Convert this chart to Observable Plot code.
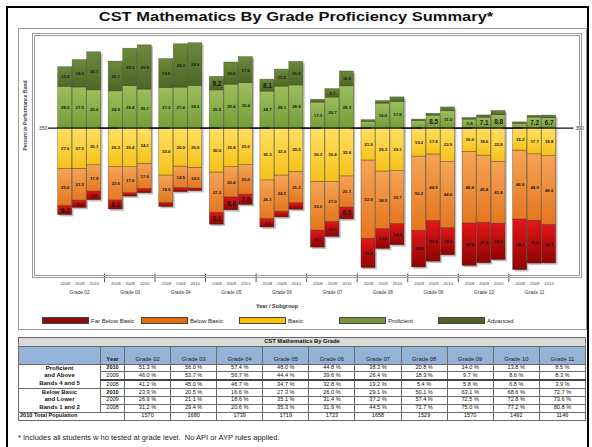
<!DOCTYPE html>
<html><head><meta charset="utf-8">
<script src="https://cdn.jsdelivr.net/npm/d3@7"></script>
<script src="https://cdn.jsdelivr.net/npm/@observablehq/plot@0.6"></script>
<style>
html,body{margin:0;padding:0;background:#fff;}
body{width:592px;height:447px;position:relative;overflow:hidden;font-family:"Liberation Sans",Arial,sans-serif;color:#111;}
.abs{position:absolute;box-sizing:border-box;}
#outer{left:6px;top:6px;width:583px;height:480px;border:2.5px solid #000;}
#title{left:0;top:8px;width:592px;text-align:center;font-weight:bold;font-size:13.5px;line-height:18px;transform:scaleX(1.22);transform-origin:296px 0;}
#panel{left:18px;top:28px;width:569px;height:302px;border:1px solid #9c9c9c;}
#frame{left:32px;top:33px;width:550px;height:245px;border:3px double #9a9a9a;pointer-events:none;}
#chart{left:18px;top:30px;}
#xtitle{left:177px;top:303px;width:200px;text-align:center;font-weight:bold;font-size:5.5px;color:#333;}
.sw{position:absolute;top:317px;width:47px;height:7px;border:0.8px solid #444;box-sizing:border-box;}
.lg{position:absolute;top:316.5px;font-size:6px;line-height:8px;color:#222;}
#tbl{left:18px;top:337px;width:567px;border-collapse:collapse;table-layout:fixed;}
#tbl td{border:1px solid #6a6a6a;padding:0;line-height:1;text-align:center;font-size:5.6px;overflow:hidden;white-space:nowrap;}
#tbl tr.t td{background:#d9d9d9;font-weight:bold;height:8px;font-size:5.8px;}
#tbl tr.h td{background:#95b3d7;height:15.5px;vertical-align:bottom;padding-bottom:1px;font-size:5.8px;color:#1a1a1a;}
#tbl tr.d td{height:6.8px;background:#fff;}
#tbl tr.p td{height:7px;}
#tbl td.grp{font-weight:bold;font-size:6px;line-height:7.6px;white-space:normal;}
#tbl tr.thick td{border-top:2px solid #444;}
#foot{left:18px;top:433px;font-size:7.5px;color:#222;white-space:pre;}
</style></head>
<body>
<div id="outer" class="abs"></div>
<div id="title" class="abs">CST Mathematics By Grade Proficiency Summary*</div>
<div id="panel" class="abs"></div>
<div id="chart" class="abs"></div>
<div id="frame" class="abs"></div>
<div id="xtitle" class="abs">Year / Subgroup</div>
<div id="legend"></div>
<table id="tbl" class="abs"></table>
<div id="foot" class="abs">* Includes all students w ho tested at grade level.  No API or AYP rules applied.</div>
<script>
// ---------- data ----------
const grades = ["Grade 02","Grade 03","Grade 04","Grade 05","Grade 06","Grade 07","Grade 08","Grade 09","Grade 10","Grade 11"];
const years = ["2008","2009","2010"];
const bands = ["Far Below Basic","Below Basic","Basic","Proficient","Advanced"];
// per grade: [2008, 2009, 2010]
const advanced = [[13.2,18.5,25.7],[20.1,25.3,29.9],[19.5,29.3,28.8],[9.2,15.0,17.6],[8.1,11.5,15.9],[1.9,5.7,10.0],[1.1,1.7,3.0],[1.0,1.2,2.5],[1.0,1.5,2.8],[1.0,1.1,1.8]];
const proficient = [[28.0,27.5,25.6],[24.9,28.4,26.1],[27.2,27.4,28.6],[25.5,29.4,30.4],[24.7,28.1,28.9],[17.3,20.7,28.3],[4.3,16.6,17.8],[4.8,8.5,11.5],[5.8,7.1,8.8],[2.9,7.2,6.7]];
const basic = [[27.6,27.5,25.1],[26.3,26.4,24.1],[32.0,26.0,26.8],[30.0,26.4,25.0],[35.3,32.0,29.5],[36.3,36.4,32.6],[21.9,29.3,29.1],[19.2,17.8,22.9],[16.0,18.6,22.8],[15.2,17.7,18.8]];
const belowBasic = [[25.0,21.5,17.8],[22.6,17.6,17.0],[18.5,14.5,14.0],[27.2,20.4,20.0],[26.1,24.5,21.2],[33.0,27.0,21.1],[52.9,38.9,35.7],[50.2,44.9,44.6],[48.4,45.4,41.8],[46.6,44.9,46.6]];
const farBelowBasic = [[6.2,5.0,5.8],[6.1,2.3,2.9],[2.8,2.8,1.8],[8.1,8.8,7.0],[5.8,3.9,4.5],[11.5,10.2,8.0],[19.8,13.5,14.4],[24.8,27.6,18.5],[28.8,27.4,24.6],[34.2,29.0,26.1]];

// table values
const tableYears = ["2010","2009","2008"];
const profAbove = [
  ["51.3","56.0","57.4","48.0","44.8","38.3","20.8","14.0","13.8","8.5"],
  ["46.0","53.7","56.7","44.4","39.6","26.4","18.3","9.7","8.6","8.3"],
  ["41.2","45.0","46.7","34.7","32.8","19.2","5.4","5.8","6.8","3.9"]];
const belowLower = [
  ["23.9","20.5","16.6","27.3","26.0","29.1","50.1","63.1","68.6","72.7"],
  ["26.9","21.1","18.6","35.1","31.4","37.2","57.4","72.5","72.8","73.6"],
  ["31.2","29.4","20.6","35.3","31.9","44.5","72.7","75.0","77.2","80.8"]];
const population = ["1570","1680","1739","1719","1723","1658","1529","1570","1492","1146"];

// ---------- styling ----------
const gradTop = ["#e3171a","#f5a458","#ffe063","#9cbe5c","#6b8a3b"];
const gradBot = ["#8f0303","#e5771f","#f6c21a","#749e38","#4b6824"];
const legendColors = ["#8b0a0a","#e46c0a","#ffc000","#77933c","#4f6228"];
const stackOrder = ["Proficient","Advanced","Basic","Below Basic","Far Below Basic"];

// ---------- build rows ----------
const bandArrays = {"Far Below Basic": farBelowBasic, "Below Basic": belowBasic, "Basic": basic, "Proficient": proficient, "Advanced": advanced};
const rows = [];
const totals = [];
grades.forEach((g, gi) => {
  years.forEach((yr, yi) => {
    let above = 0, below = 0;
    for (const b of bands) {
      const v = bandArrays[b][gi][yi];
      const neg = (b === "Far Below Basic" || b === "Below Basic" || b === "Basic");
      rows.push({grade: g, year: yr, band: b, v, signed: neg ? -v : v});
      if (neg) below += v; else above += v;
    }
    totals.push({grade: g, year: yr, above, below});
  });
});

// ---------- layout ----------
const W = 568, H = 270, ML = 35.9, MR = 26.6, MT = 3, MB = 23;
const xPadIn = 0.03, xPadOut = 0.26;
const facetW = (W - ML - MR) / grades.length;
const xStep = facetW / (years.length - xPadIn + 2 * xPadOut);
const xBw = xStep * (1 - xPadIn);
const font = "'Liberation Sans', Arial, sans-serif";

const chart = Plot.plot({
  width: W, height: H,
  marginLeft: ML, marginRight: MR, marginTop: MT, marginBottom: MB,
  style: {background: "transparent", fontFamily: font, fontSize: "4.6px", overflow: "visible"},
  fx: {domain: grades, paddingInner: 0, paddingOuter: 0, round: false, axis: null, label: null},
  x: {domain: years, paddingInner: xPadIn, paddingOuter: xPadOut, round: false, axis: null, label: null},
  y: {domain: [-101, 64], axis: null, label: null},
  color: {domain: bands, range: bands.map((b, i) => `url(#bandgrad${i})`)},
  marks: [
    // drop shadow of each bar
    Plot.barY(totals, {fx: "grade", x: "year", y1: d => -d.below, y2: d => d.above, fill: "#7d7d7d", fillOpacity: 0.5, dx: 1.8, dy: 1.8, inset: 0}),
    // stacked segments
    Plot.barY(rows, Plot.stackY({fx: "grade", x: "year", y: "signed", z: "band", fill: "band", order: stackOrder, stroke: "#2e2e1e", strokeOpacity: 0.55, strokeWidth: 0.6, inset: 0})),
    // value labels
    Plot.text(rows, Plot.stackY({fx: "grade", x: "year", y: "signed", z: "band", order: stackOrder,
      text: d => d.v >= 5 ? d.v.toFixed(1) : "",
      fontSize: d => (d.v >= 6 && d.v < 10) ? 6.3 : 4.3,
      fontWeight: "bold", fill: "#151515"})),
    // 350 line
    Plot.ruleY([0], {stroke: "#111", strokeWidth: 1.1, insetLeft: -6, insetRight: -14}),
    Plot.text(["350"], {fx: () => grades[0], y: () => 0, text: d => d, frameAnchor: "left", textAnchor: "end", dx: -7, fontSize: 5, fill: "#333"}),
    Plot.text(["350"], {fx: () => grades[grades.length - 1], y: () => 0, text: d => d, frameAnchor: "right", textAnchor: "start", dx: 15.5, fontSize: 5, fill: "#333"}),
    // separator ticks between grade groups
    Plot.barY(grades.slice(1), {fx: d => d, x: () => years[0], y1: () => -98.5, y2: () => -104.5, fill: "#555",
      insetLeft: -(xPadOut * xStep) - 0.5, insetRight: xBw + xPadOut * xStep - 0.5}),
    // year labels
    Plot.text(totals, {fx: "grade", x: "year", text: "year", frameAnchor: "bottom", dy: 7, fontSize: 4.3, fill: "#444"}),
    // grade labels
    Plot.text(grades, {fx: d => d, text: d => d, frameAnchor: "bottom", dy: 16, fontSize: 4.8, fill: "#333"}),
    // y axis title
    Plot.text(["Percent in Performance Band"], {fx: () => grades[0], text: d => d, frameAnchor: "left", rotate: -90, dx: -29, dy: -5, fontSize: 5, fontWeight: "bold", fill: "#444"})
  ]
});

// gradients
const NS = "http://www.w3.org/2000/svg";
const defs = document.createElementNS(NS, "defs");
bands.forEach((b, i) => {
  const lg = document.createElementNS(NS, "linearGradient");
  lg.setAttribute("id", `bandgrad${i}`);
  lg.setAttribute("x1", "0"); lg.setAttribute("y1", "0"); lg.setAttribute("x2", "0"); lg.setAttribute("y2", "1");
  [[0, gradTop[i]], [1, gradBot[i]]].forEach(([o, c]) => {
    const s = document.createElementNS(NS, "stop");
    s.setAttribute("offset", o); s.setAttribute("stop-color", c);
    lg.appendChild(s);
  });
  defs.appendChild(lg);
});
chart.insertBefore(defs, chart.firstChild);
document.getElementById("chart").appendChild(chart);

// legend
const legendX = [42, 141, 239, 339, 438];
const legendEl = document.getElementById("legend");
bands.forEach((b, i) => {
  const sw = document.createElement("div");
  sw.className = "sw"; sw.style.left = legendX[i] + "px"; sw.style.background = legendColors[i];
  legendEl.appendChild(sw);
  const lb = document.createElement("div");
  lb.className = "lg"; lb.style.left = (legendX[i] + 49) + "px"; lb.textContent = b;
  legendEl.appendChild(lb);
});

// table
const tbl = document.getElementById("tbl");
let html = `<colgroup><col style="width:82px"><col style="width:24px">${grades.map(() => '<col style="width:46.1px">').join("")}</colgroup>`;
html += `<tr class="t"><td colspan="12">CST Mathematics By Grade</td></tr>`;
html += `<tr class="h"><td></td><td style="font-weight:bold">Year</td>${grades.map(g => `<td>${g}</td>`).join("")}</tr>`;
const groups = [["Proficient<br>and Above<br>Bands 4 and 5", profAbove], ["Below Basic<br>and Lower<br>Bands 1 and 2", belowLower]];
groups.forEach(([label, vals], gi) => {
  tableYears.forEach((yr, ri) => {
    const cls = "d" + (gi === 0 && ri === 2 ? " thick" : "");
    html += `<tr class="${cls}">`;
    if (ri === 0) html += `<td class="grp" rowspan="3">${label}</td>`;
    html += `<td style="${yr === "2010" ? "font-weight:bold" : ""}">${yr}</td>`;
    html += vals[ri].map(v => `<td>${v} %</td>`).join("");
    html += `</tr>`;
  });
});
html += `<tr class="p"><td colspan="2" style="text-align:left;font-weight:bold;padding-left:1px">2010 Total Population</td>${population.map(p => `<td>${p}</td>`).join("")}</tr>`;
tbl.innerHTML = html;
</script>
</body></html>
